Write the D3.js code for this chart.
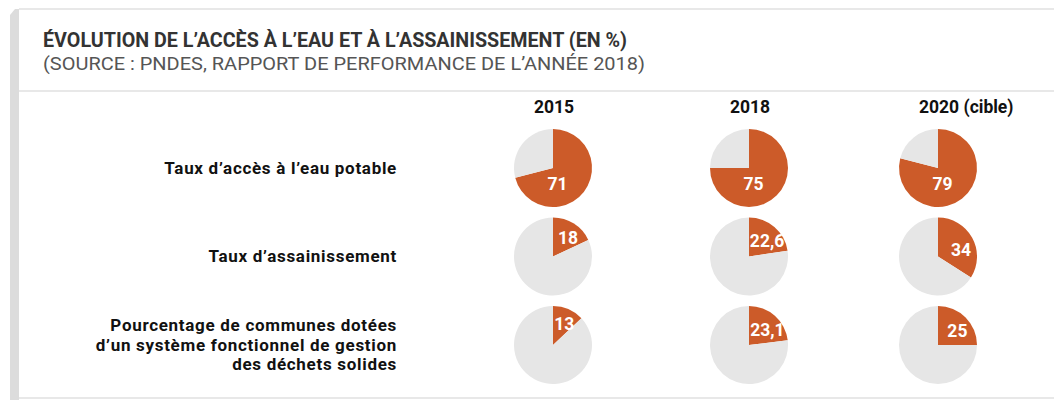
<!DOCTYPE html>
<html>
<head>
<meta charset="utf-8">
<script src="https://cdn.jsdelivr.net/npm/d3@7"></script>
<style>
    body { margin: 0; background: #fff; }
    text { font-family: Roboto, "Noto Sans", sans-serif; }
</style>
</head>
<body>
<div id="vis"></div>
<script>
// data
var years = ["2015", "2018", "2020 (cible)"];
var indicators = [
    "Taux d’accès à l’eau potable",
    "Taux d’assainissement",
    "Pourcentage de communes dotées|d’un système fonctionnel de gestion|des déchets solides"
];
var eauPotable = [71, 75, 79];
var assainissement = [18, 22.6, 34];
var dechets = [13, 23.1, 25];
var valueLabels = [["71", "75", "79"], ["18", "22,6", "34"], ["13", "23,1", "25"]];
var title = "ÉVOLUTION DE L’ACCÈS À L’EAU ET À L’ASSAINISSEMENT (EN %)";
var subtitle = "(SOURCE : PNDES, RAPPORT DE PERFORMANCE DE L’ANNÉE 2018)";

function draw() {
//width and height of svg
    var w = 1054;
    var h = 400;
    var radius = 39;
    var orange = "#cc5b29";
    var grey = "#e6e6e6";

    var series = [eauPotable, assainissement, dechets];

    var svg = d3.select("#vis")
                .append("svg")
                .attr("width", w)
                .attr("height", h);

//frame: grey strip on the left and light rules
    svg.append("path")
        .attr("d", "M10,15 L15,9 L19,9 L19,400 L10,400 Z")
        .attr("fill", "#dcdcdc");

    svg.selectAll("line.rule")
        .data([9, 91, 398])
        .enter()
        .append("line")
        .attr("class", "rule")
        .attr("x1", 19)
        .attr("x2", w)
        .attr("y1", function(d) { return d; })
        .attr("y2", function(d) { return d; })
        .attr("stroke", "#e8e8e8")
        .attr("stroke-width", 2);

//title block
    svg.append("text")
        .attr("x", 43)
        .attr("y", 47)
        .attr("font-size", "19.5px")
        .attr("font-weight", "bold")
        .attr("fill", "#333")
        .attr("textLength", 584)
        .attr("lengthAdjust", "spacingAndGlyphs")
        .text(title);

    svg.append("text")
        .attr("x", 43)
        .attr("y", 70)
        .attr("font-size", "17.5px")
        .attr("fill", "#555")
        .attr("textLength", 602)
        .attr("lengthAdjust", "spacingAndGlyphs")
        .text(subtitle);

//scales
    var xScale = d3.scaleOrdinal()
                    .domain(years)
                    .range([553, 749, 938]);

    var yScale = d3.scalePoint()
                    .domain(indicators)
                    .range([168, 345]);

    var pie = d3.pie()
                .sort(null)
                .value(function(d) { return d; });

    var arc = d3.arc()
                .innerRadius(0)
                .outerRadius(radius);

//column headers
    svg.append("g")
        .selectAll("text")
        .data(years)
        .enter()
        .append("text")
        .attr("x", function(d) { return xScale(d) - 19; })
        .attr("y", 113)
        .attr("font-size", "17.5px")
        .attr("font-weight", "bold")
        .attr("fill", "#111")
        .text(function(d) { return d; });

//row labels (multi-line where needed)
    var rowLabel = svg.append("g")
                    .selectAll("text")
                    .data(indicators)
                    .enter()
                    .append("text")
                    .attr("text-anchor", "end")
                    .attr("font-size", "17px")
                    .attr("font-weight", "bold")
                    .attr("letter-spacing", "0.7px")
                    .attr("fill", "#111")
                    .attr("transform", function(d) { return "translate(397," + yScale(d) + ")"; });

    rowLabel.selectAll("tspan")
        .data(function(d) {
            var lines = d.split("|");
            return lines.map(function(l, i) { return {text: l, i: i, n: lines.length}; });
        })
        .enter()
        .append("tspan")
        .attr("x", 0)
        .attr("y", function(d) { return (d.i - (d.n - 1) / 2) * 19.5; })
        .attr("dy", "0.35em")
        .text(function(d) { return d.text; });

//pies
    var cells = [];
    series.forEach(function(s, r) {
        s.forEach(function(v, c) {
            cells.push({row: indicators[r], year: years[c], value: v, label: valueLabels[r][c]});
        });
    });

    var cell = svg.append("g")
                .selectAll("g")
                .data(cells)
                .enter()
                .append("g")
                .attr("transform", function(d) {
                    return "translate(" + xScale(d.year) + "," + yScale(d.row) + ")";
                });

    cell.selectAll("path")
        .data(function(d) { return pie([d.value, 100 - d.value]); })
        .enter()
        .append("path")
        .attr("d", arc)
        .attr("fill", function(d, i) { return i == 0 ? orange : grey; });

    // value label: big slices sit low, small ones just inside the wedge
    cell.append("text")
        .attr("transform", function(d) {
            var mid = d.value / 100 * Math.PI;
            var a, r;
            if (d.value > 50) { a = Math.PI * 0.91; r = 16; }
            else { a = mid * 1.2; r = 24; }
            return "translate(" + (Math.sin(a) * r) + "," + (-Math.cos(a) * r) + ")";
        })
        .attr("text-anchor", "middle")
        .attr("dy", "0.36em")
        .attr("font-size", "17.5px")
        .attr("font-weight", "bold")
        .attr("fill", "#fff")
        .text(function(d) { return d.label; });
}

window.onload = draw;
</script>
</body>
</html>
